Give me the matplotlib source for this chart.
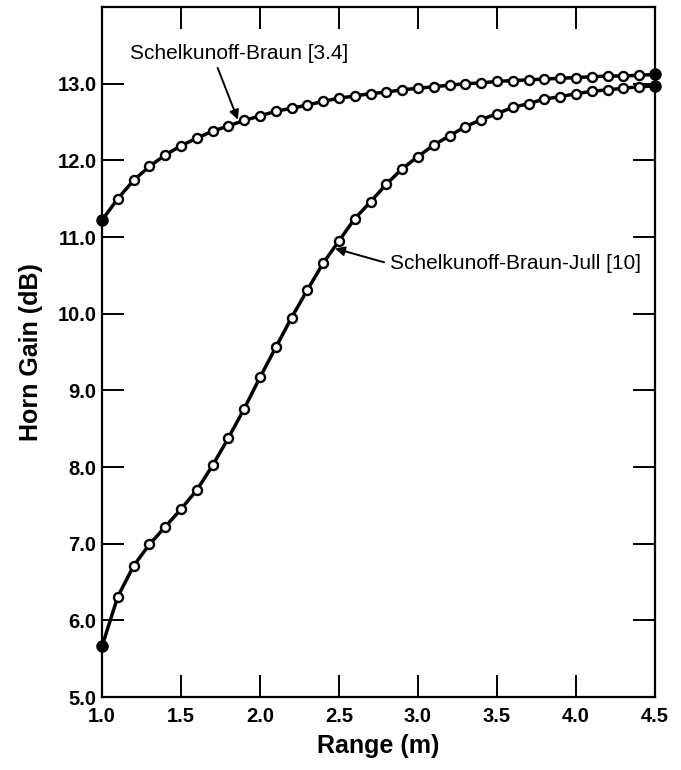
import numpy as np
import matplotlib
matplotlib.use("Agg")
import matplotlib.pyplot as plt

plt.rcParams["font.family"] = ["Liberation Sans", "DejaVu Sans"]

# Range (m), sampled every 0.1 m
range_m = np.round(np.arange(1.0, 4.51, 0.1), 1)

# Schelkunoff-Braun [3.4]
gain_sb = [11.22, 11.50, 11.74, 11.92, 12.07, 12.19, 12.29, 12.38, 12.45, 12.52,
           12.58, 12.64, 12.68, 12.72, 12.77, 12.81, 12.84, 12.87, 12.89, 12.92,
           12.94, 12.96, 12.98, 13.00, 13.01, 13.03, 13.04, 13.05, 13.06, 13.07,
           13.08, 13.09, 13.10, 13.10, 13.11, 13.12]

# Schelkunoff-Braun-Jull [10]
gain_sbj = [5.66, 6.31, 6.71, 6.99, 7.22, 7.45, 7.70, 8.02, 8.38, 8.76,
            9.17, 9.56, 9.95, 10.31, 10.66, 10.95, 11.24, 11.46, 11.69, 11.89,
            12.05, 12.20, 12.32, 12.44, 12.53, 12.61, 12.69, 12.74, 12.80, 12.83,
            12.87, 12.90, 12.92, 12.94, 12.96, 12.97]

x_ticks = [1.0, 1.5, 2.0, 2.5, 3.0, 3.5, 4.0, 4.5]
y_ticks = [5.0, 6.0, 7.0, 8.0, 9.0, 10.0, 11.0, 12.0, 13.0]

fig = plt.figure(figsize=(6.81, 7.70), dpi=100)
ax = fig.add_axes([0.1498, 0.0948, 0.812, 0.8961])

for g in (gain_sb, gain_sbj):
    ax.plot(range_m, g, color="black", lw=2.5, marker="o", ms=6.5,
            mfc="white", mec="black", mew=1.7, zorder=3)
    # filled end points
    ax.plot([range_m[0], range_m[-1]], [g[0], g[-1]], "o", color="black",
            ms=8, zorder=4, clip_on=False)

ax.set_xlim(1.0, 4.5)
ax.set_ylim(5.0, 14.0)
ax.set_xticks(x_ticks)
ax.set_yticks(y_ticks)
ax.set_xticklabels([f"{v:.1f}" for v in x_ticks], fontsize=14.5, fontweight="bold")
ax.set_yticklabels([f"{v:.1f}" for v in y_ticks], fontsize=14.5, fontweight="bold")
ax.tick_params(direction="in", length=16, width=1.4, top=True, right=True)
ax.tick_params(axis="x", pad=7)
ax.tick_params(axis="y", pad=4)
for s in ax.spines.values():
    s.set_linewidth(1.6)

ax.set_xlabel("Range (m)", fontsize=18, fontweight="bold", labelpad=6)
ax.set_ylabel("Horn Gain (dB)", fontsize=18, fontweight="bold", labelpad=10)

ax.annotate("Schelkunoff-Braun [3.4]", xy=(1.86, 12.53), xytext=(1.18, 13.40),
            fontsize=15, ha="left", va="center",
            arrowprops=dict(arrowstyle="-|>", color="black", lw=1.4,
                            shrinkA=2, shrinkB=0, mutation_scale=14,
                            relpos=(0.39, 0.0)))
ax.annotate("Schelkunoff-Braun-Jull [10]", xy=(2.475, 10.85), xytext=(2.82, 10.65),
            fontsize=15, ha="left", va="center",
            arrowprops=dict(arrowstyle="-|>", color="black", lw=1.4,
                            shrinkA=2, shrinkB=0, mutation_scale=14,
                            relpos=(0.0, 0.5)))

fig.savefig("out.png", dpi=100)
